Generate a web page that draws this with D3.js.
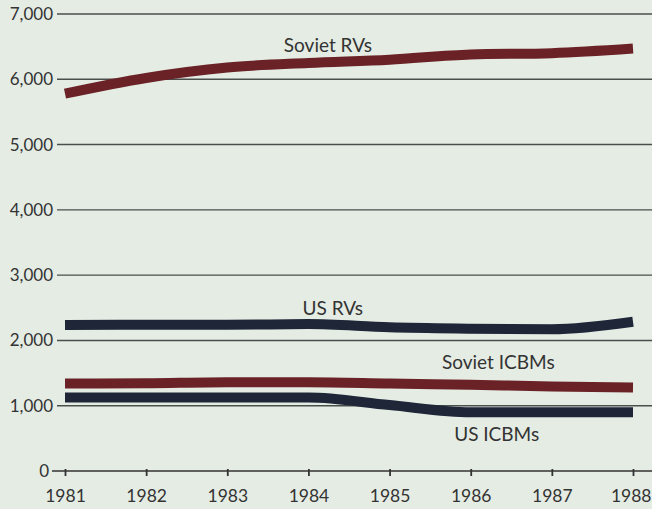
<!DOCTYPE html>
<html>
<head>
<meta charset="utf-8">
<script src="https://cdn.jsdelivr.net/npm/d3@7"></script>
<style>
  html, body { margin: 0; padding: 0; background: #e5ece4; }
  svg { display: block; }
</style>
</head>
<body>
<div id="chart"></div>
<script>
// data
const years = [1981, 1982, 1983, 1984, 1985, 1986, 1987, 1988];
const sovietRVs = [5780, 6020, 6180, 6250, 6300, 6380, 6400, 6470];
const usRVs = [2235, 2240, 2240, 2250, 2200, 2180, 2170, 2285];
const sovietICBMs = [1340, 1345, 1360, 1360, 1340, 1320, 1295, 1280];
const usICBMs = [1125, 1125, 1125, 1125, 1010, 900, 900, 900];
const yTicks = [0, 1000, 2000, 3000, 4000, 5000, 6000, 7000];

const W = 652, H = 509;
const soviet = "#6b2226", us = "#1e2637";
const font = "Lato, 'Open Sans', sans-serif";

const svg = d3.select("#chart").append("svg")
  .attr("width", W).attr("height", H)
  .style("background", "#e5ece4");

const x = d3.scaleLinear().domain([1981, 1988]).range([65, 633]);
const y = d3.scaleLinear().domain([0, 7000]).range([471, 14]);

// grid lines
svg.append("g")
  .selectAll("line")
  .data(yTicks.filter(d => d > 0))
  .join("line")
  .attr("x1", 57).attr("x2", W)
  .attr("y1", d => y(d)).attr("y2", d => y(d))
  .attr("stroke", "#4a4f4c").attr("stroke-width", 1.4);

// y labels
svg.append("g")
  .selectAll("text")
  .data(yTicks)
  .join("text")
  .attr("x", d => d === 0 ? 49 : 53)
  .attr("y", d => y(d) + 6)
  .attr("text-anchor", "end")
  .attr("font-family", font)
  .attr("font-size", 17)
  .attr("fill", "#333")
  .text(d => d3.format(",")(d));

// x axis
const xAxis = svg.append("g").attr("transform", `translate(0,${y(0)})`)
  .call(d3.axisBottom(x).tickValues(years).tickFormat(d3.format("d")).tickSize(5).tickPadding(14));
xAxis.select(".domain").remove();
xAxis.insert("line", ":first-child")
  .attr("x1", 52).attr("x2", W).attr("y1", 0).attr("y2", 0)
  .attr("stroke", "#333").attr("stroke-width", 1.6);
xAxis.selectAll(".tick line").attr("stroke", "#333").attr("stroke-width", 1.8).attr("y1", -2);
xAxis.selectAll(".tick text")
  .attr("font-family", font)
  .attr("font-size", 17.5).attr("fill", "#333");
// keep the last year inside the picture
xAxis.selectAll(".tick text").filter(d => d === 1988)
  .attr("text-anchor", "end").attr("x", W - x(1988) - 1);

// series lines
const series = [
  { name: "Soviet RVs", values: sovietRVs, color: soviet },
  { name: "US RVs", values: usRVs, color: us },
  { name: "Soviet ICBMs", values: sovietICBMs, color: soviet },
  { name: "US ICBMs", values: usICBMs, color: us }
];

const line = d3.line()
  .x((d, i) => x(years[i]))
  .y(d => y(d))
  .curve(d3.curveMonotoneX);

svg.append("g")
  .selectAll("path")
  .data(series)
  .join("path")
  .attr("d", d => line(d.values))
  .attr("fill", "none")
  .attr("stroke", d => d.color)
  .attr("stroke-width", 10);

// labels
const labels = [
  { text: "Soviet RVs", year: 1984.24, value: 6420 },
  { text: "US RVs", year: 1984.3, value: 2390 },
  { text: "Soviet ICBMs", year: 1986.34, value: 1570 },
  { text: "US ICBMs", year: 1986.32, value: 465 }
];
svg.append("g")
  .selectAll("text")
  .data(labels)
  .join("text")
  .attr("x", d => x(d.year))
  .attr("y", d => y(d.value))
  .attr("text-anchor", "middle")
  .attr("font-family", font)
  .attr("font-size", 19)
  .attr("fill", "#333")
  .text(d => d.text);
</script>
</body>
</html>
